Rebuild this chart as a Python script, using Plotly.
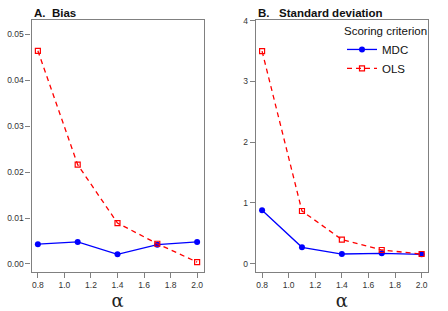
import plotly.graph_objects as go

alpha = [0.8, 1.1, 1.4, 1.7, 2.0]
bias_mdc = [0.0043, 0.0048, 0.0021, 0.0042, 0.0048]
bias_ols = [0.0464, 0.0216, 0.0089, 0.0044, 0.0004]
sd_mdc = [0.877, 0.268, 0.158, 0.170, 0.153]
sd_ols = [3.497, 0.866, 0.395, 0.224, 0.158]
x_ticks = [0.8, 1.0, 1.2, 1.4, 1.6, 1.8, 2.0]
bias_ticks = [0.00, 0.01, 0.02, 0.03, 0.04, 0.05]
sd_ticks = [0, 1, 2, 3, 4]

BLUE = "#0000FF"
RED = "#FF0000"
GRAY = "#808080"
FONT = "Liberation Sans, Arial, Helvetica, sans-serif"

fig = go.Figure()

def add_pair(xa, ya, mdc, ols, show):
    fig.add_trace(go.Scatter(x=alpha, y=mdc, mode="lines+markers", name="MDC",
                             line=dict(color=BLUE, width=1.3),
                             marker=dict(symbol="circle", size=6, color=BLUE),
                             xaxis=xa, yaxis=ya, showlegend=show, legendrank=1))
    fig.add_trace(go.Scatter(x=alpha, y=ols, mode="lines+markers", name="OLS",
                             line=dict(color=RED, width=1.3, dash="5px,4px"),
                             marker=dict(symbol="square-open", size=5, color=RED,
                                         line=dict(width=1.2, color=RED)),
                             xaxis=xa, yaxis=ya, showlegend=show, legendrank=2))

add_pair("x", "y", bias_mdc, bias_ols, False)
add_pair("x2", "y2", sd_mdc, sd_ols, True)

W, H = 448, 311
ydom = [(H - 272) / H, (H - 20) / H]
axis_common = dict(showline=True, mirror=True, linecolor=GRAY, linewidth=1.2,
                   ticks="outside", ticklen=5, tickcolor=GRAY, tickwidth=1.2,
                   showgrid=False, zeroline=False, automargin=False,
                   tickfont=dict(family=FONT, size=8.5, color="#333333"))
xaxis_common = dict(axis_common, range=[0.752, 2.048], tickvals=x_ticks,
                    tickformat=".1f",
                    title=dict(text="α", font=dict(family="DejaVu Serif, serif", size=18, color="#222222"),
                               standoff=5))

fig.update_layout(
    width=W, height=H,
    margin=dict(l=0, r=0, t=0, b=0, autoexpand=False),
    plot_bgcolor="white", paper_bgcolor="white",
    xaxis=dict(xaxis_common, domain=[31.5 / W, 203.5 / W], anchor="y"),
    yaxis=dict(axis_common, domain=ydom, range=[-0.00175, 0.0531],
               tickvals=bias_ticks, tickformat=".2f", anchor="x"),
    xaxis2=dict(xaxis_common, domain=[255.7 / W, 428 / W], anchor="y2"),
    yaxis2=dict(axis_common, domain=ydom, range=[-0.138, 4.01],
                tickvals=sd_ticks, tickformat="d", anchor="x2"),
    legend=dict(title=dict(text="Scoring criterion", font=dict(family=FONT, size=11.5, color="#111111")),
                font=dict(family=FONT, size=11.5, color="#111111"),
                x=430 / W, xanchor="right", y=(H - 20) / H, yanchor="top",
                bgcolor="rgba(0,0,0,0)", tracegroupgap=0, itemwidth=30),
    annotations=[
        dict(text="<b>A.  Bias</b>", x=31.5 / W, y=1 - 13 / H, xref="paper", yref="paper",
             xanchor="left", yanchor="middle", showarrow=False,
             font=dict(family=FONT, size=11.5, color="#111111")),
        dict(text="<b>B.   Standard deviation</b>", x=255.7 / W, y=1 - 13 / H, xref="paper", yref="paper",
             xanchor="left", yanchor="middle", showarrow=False,
             font=dict(family=FONT, size=11.5, color="#111111")),
    ],
)

fig.write_html("out.html", config={"displayModeBar": False},
               post_script="document.body.style.margin='0';document.body.style.padding='0';")
